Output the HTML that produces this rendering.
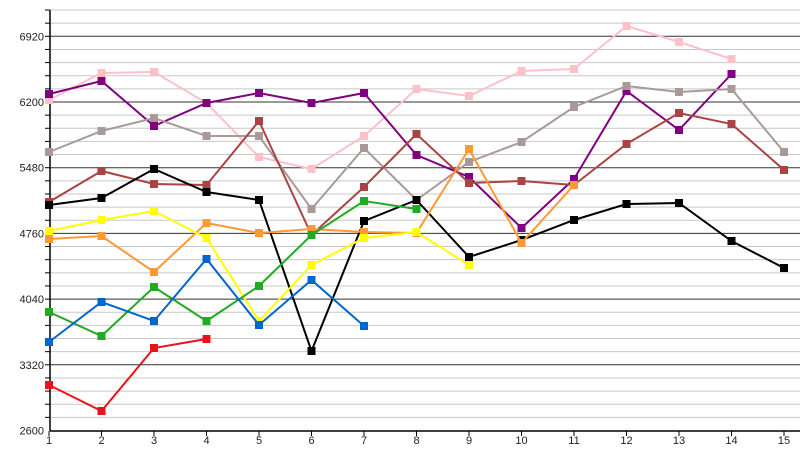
<!DOCTYPE html>
<html><head><style>body{margin:0;background:#fff}svg{display:block}text{font-family:"Liberation Sans",sans-serif;font-size:11px;fill:#222}</style></head>
<body>
<svg id="s" width="800" height="450" xmlns="http://www.w3.org/2000/svg">
<g id="grid"></g>
<line x1="50" y1="10" x2="50" y2="431" stroke="#000" stroke-width="1.5"/>
<line x1="50" y1="431" x2="800" y2="431" stroke="#000" stroke-width="1.5"/>
<g id="lab"></g>
<g id="ser"></g>
</svg>
<script>
var ns="http://www.w3.org/2000/svg";
function el(p,t,a,txt){var e=document.createElementNS(ns,t);for(var k in a)e.setAttribute(k,a[k]);if(txt!=null)e.textContent=txt;document.getElementById(p).appendChild(e);return e;}
var y0=430.5,py=65.7/5;
for(var i=1;i<=32;i++){var y=y0-i*py;var maj=i%5==0;
el("grid","line",{x1:50,x2:800,y1:y,y2:y,stroke:maj?"#333":"#c8c8c8","stroke-width":1});
el("grid","line",{x1:45,x2:50,y1:y,y2:y,stroke:"#000"});}
var labs=[2600,3320,4040,4760,5480,6200,6920];
labs.forEach(function(v,i){el("lab","text",{x:44,y:y0-i*65.7+4,"text-anchor":"end"},v);});
function X(i){return 49+(i-1)*52.5;}
for(var i=1;i<=15;i++){el("lab","text",{x:X(i),y:444,"text-anchor":"middle"},i);el("lab","line",{x1:X(i),x2:X(i),y1:431,y2:436,stroke:"#000"});}
var S=[
["#ff9999",[]],
["#e8141a",[385,411,348,339]],
["#0066cc",[342,302,321,259,325,280,326]],
["#22aa22",[312,336,287,321,286,235,201,209]],
["#ffff00",[231,220,211,238,321,265,238,232,265]],
["#ff9933",[239,236,272,223,233,229,232,233,149,243,185]],
["#000000",[205,198,169,192,200,351,221,200,257,240,220,204,203,241,268]],
["#aa4444",[202,171,184,185,121,235,187,134,183,181,185,144,113,124,170]],
["#aa9999",[152,131,118,136,136,209,148,200,162,142,107,86,92,89,152]],
["#800080",[94,81,126,103,93,103,93,155,177,228,179,91,130,74]],
["#ffc0c8",[100,73,72,103,157,169,136,89,96,71,69,26,42,59]]];
[10,9,8,7,0,6,5,4,3,2,1].forEach(function(k){var c=S[k][0],d=S[k][1];if(!d.length)return;
el("ser","polyline",{points:d.map(function(y,i){return X(i+1)+","+y}).join(" "),fill:"none",stroke:c,"stroke-width":2});
d.forEach(function(y,i){el("ser","rect",{x:X(i+1)-4,y:y-4,width:8,height:8,fill:c});});});
</script>
</body></html>
